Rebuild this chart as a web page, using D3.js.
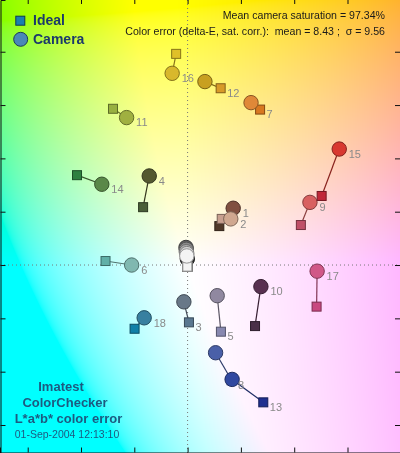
<!DOCTYPE html>
<html>
<head>
<meta charset="utf-8">
<script src="https://cdn.jsdelivr.net/npm/d3@7/dist/d3.min.js"></script>
<style>
  html, body { margin: 0; padding: 0; background: #fff; }
  #wrap { position: relative; width: 400px; height: 453px; overflow: hidden; }
  canvas, svg { position: absolute; left: 0; top: 0; }
  text { font-family: "Liberation Sans", Arial, sans-serif; }
</style>
</head>
<body>
<div id="wrap"><canvas id="bg" width="400" height="453"></canvas><svg id="chart" width="400" height="453"></svg></div>
<script>
// ---- data (a*, b*) ----
const patchIds   = [1, 2, 3, 4, 5, 6, 7, 8, 9, 10, 11, 12, 13, 14, 15, 16, 17, 18, 24, 23, 22, 21, 20, 19];
const idealA     = [11.9, 12.8, 0.5, -16.7, 12.5, -30.8, 27.2, 16.5, 42.5, 25.3, -28.0, 12.4, 28.4, -41.5, 50.3, -4.3, 48.4, -19.9, -0.1, -0.1, -0.1, -0.1, -0.1, -0.1];
const idealB     = [14.6, 17.3, -21.5, 21.7, -25.0, 1.5, 58.3, -43.2, 15.0, -22.9, 58.6, 66.3, -51.5, 33.7, 25.9, 79.2, -15.6, -23.9, -0.6, -0.6, -0.6, -0.6, -0.6, -0.6];
const cameraA    = [17.1, 16.2, -1.4, -14.4, 11.1, -21.0, 23.8, 10.5, 45.9, 27.5, -22.9, 6.5, 16.7, -32.2, 56.9, -5.8, 48.6, -16.3, -0.1, -0.6, -0.5, -0.5, -0.3, -0.3];
const cameraB    = [21.3, 17.3, -13.8, 33.4, -11.5, 0.0, 60.9, -32.9, 23.5, -8.1, 55.3, 68.8, -42.9, 30.3, 43.5, 71.9, -2.3, -19.8, 2.3, 6.6, 5.9, 5.0, 4.3, 3.4];
const idealColor = ["#503828", "#c8a090", "#5a7890", "#4a5e38", "#8888b0", "#60b0a8", "#d87820", "#4050a0", "#c05068", "#4a3048", "#98b040", "#d89a28", "#203090", "#2e8040", "#c02838", "#e0c028", "#c84880", "#1080a8", "#303030", "#585858", "#808080", "#a8a8a8", "#d0d0d0", "#f4f4f4"];
const cameraColor= ["#805040", "#d0a890", "#687888", "#545830", "#9088a0", "#80b8b0", "#e08838", "#4a60a8", "#d86060", "#583050", "#a0b040", "#c8a020", "#3048a0", "#5a8848", "#d83830", "#d8b82c", "#d05888", "#3880a0", "#303030", "#606060", "#8a8a8a", "#b0b0b0", "#d4d4d4", "#f4f4f4"];
const labelOn    = ["c", "c", "s", "c", "s", "c", "s", "s", "c", "c", "c", "s", "s", "c", "c", "c", "c", "c", "", "", "", "", "", ""];
const tickValues = [-60, -40, -20, 0, 20, 40, 60, 80];
const infoLines  = ["Mean camera saturation = 97.34%", "Color error (delta-E, sat. corr.):  mean = 8.43 ;  \u03c3 = 9.56"];
const titleLines = ["Imatest", "ColorChecker", "L*a*b* color error", "01-Sep-2004 12:13:10"];
const legendItems = ["Ideal", "Camera"];

const W = 400, H = 453;
const x = d3.scaleLinear().domain([-70.4, 79.7]).range([0, W]);
const y = d3.scaleLinear().domain([-70.5, 99.4]).range([H, 0]);

// ---- background: a*b* plane at L*=100 ----
const ctx = document.getElementById("bg").getContext("2d");
const img = ctx.createImageData(W, H);
for (let py = 0; py < H; py++) {
  const b = y.invert(py + 0.5);
  for (let px = 0; px < W; px++) {
    const a = x.invert(px + 0.5);
    const c = d3.lab(100, a, b).rgb();
    const i = (py * W + px) * 4;
    img.data[i]   = Math.max(0, Math.min(255, Math.round(c.r)));
    img.data[i+1] = Math.max(0, Math.min(255, Math.round(c.g)));
    img.data[i+2] = Math.max(0, Math.min(255, Math.round(c.b)));
    img.data[i+3] = 255;
  }
}
ctx.putImageData(img, 0, 0);

const svg = d3.select("#chart");

// zero lines
svg.append("line").attr("x1", x(0)).attr("x2", x(0)).attr("y1", 0).attr("y2", H)
  .attr("stroke", "#777").attr("stroke-dasharray", "1,3");
svg.append("line").attr("x1", 0).attr("x2", W).attr("y1", y(0)).attr("y2", y(0))
  .attr("stroke", "#777").attr("stroke-dasharray", "1,3");

// axes (ticks pointing inward)
svg.append("g").attr("transform", `translate(0,${H - 0.5})`)
  .call(d3.axisBottom(x).tickValues(tickValues).tickSize(-5).tickFormat(""))
  .call(g => g.select(".domain").attr("stroke", "#111"));
svg.append("g").attr("transform", "translate(0,0)")
  .call(d3.axisTop(x).tickValues(tickValues).tickSize(-4).tickFormat(""))
  .call(g => g.select(".domain").remove());
svg.append("g").attr("transform", "translate(0.5,0)")
  .call(d3.axisLeft(y).tickValues(tickValues).tickSize(-5).tickFormat(""))
  .call(g => g.select(".domain").attr("stroke", "#111"));
svg.append("g").attr("transform", `translate(${W},0)`)
  .call(d3.axisRight(y).tickValues(tickValues).tickSize(-5).tickFormat(""))
  .call(g => g.select(".domain").remove());
svg.selectAll(".tick line").attr("stroke", "#111");

// patches
const data = patchIds.map((id, i) => ({
  id, ia: idealA[i], ib: idealB[i], ca: cameraA[i], cb: cameraB[i],
  ic: idealColor[i], cc: cameraColor[i], lab: labelOn[i]
}));
const SQ = 9, R = 7.2;
const gP = svg.append("g");
data.forEach(d => {
  const g = gP.append("g");
  g.append("line")
    .attr("x1", x(d.ia)).attr("y1", y(d.ib)).attr("x2", x(d.ca)).attr("y2", y(d.cb))
    .attr("stroke", d3.color(d.cc).darker(1.3)).attr("stroke-width", 1.2);
  g.append("rect")
    .attr("x", x(d.ia) - SQ / 2).attr("y", y(d.ib) - SQ / 2).attr("width", SQ).attr("height", SQ)
    .attr("fill", d.ic).attr("stroke", d3.color(d.ic).darker(1.4)).attr("stroke-width", 1);
  g.append("circle")
    .attr("cx", x(d.ca)).attr("cy", y(d.cb)).attr("r", R)
    .attr("fill", d.cc).attr("stroke", d3.color(d.cc).darker(1.4)).attr("stroke-width", 1);
});
// labels
svg.append("g").selectAll("text").data(data.filter(d => d.lab))
  .join("text")
  .attr("x", d => d.lab === "c" ? x(d.ca) + 9.5 : x(d.ia) + 6.5)
  .attr("y", d => (d.lab === "c" ? y(d.cb) : y(d.ib)) + 8.7)
  .attr("font-size", 11).attr("fill", "#8a8a8a")
  .text(d => d.id);

// legend
const lg = svg.append("g");
lg.append("rect").attr("x", 20.3 - SQ / 2).attr("y", 20.7 - SQ / 2).attr("width", SQ).attr("height", SQ)
  .attr("fill", "#1a80b0").attr("stroke", "#0c3a55");
lg.append("circle").attr("cx", 20.7).attr("cy", 39.3).attr("r", 7)
  .attr("fill", "#4a88b8").attr("stroke", "#1c3c58");
lg.selectAll("text").data(legendItems).join("text")
  .attr("x", 33).attr("y", (d, i) => 25 + i * 19.3)
  .attr("font-size", 14).attr("font-weight", "bold").attr("fill", "#1b3a6b")
  .text(d => d);

// info text
svg.append("g").selectAll("text").data(infoLines).join("text")
  .attr("x", 385).attr("y", (d, i) => 19 + i * 16)
  .attr("text-anchor", "end").attr("font-size", 10.6).attr("fill", "#1a1a1a")
  .style("white-space", "pre")
  .text(d => d);

// title block
const tx = [61, 65, 68.5, 67], ty = [391, 407, 422.7, 438];
svg.append("g").selectAll("text").data(titleLines).join("text")
  .attr("x", (d, i) => tx[i]).attr("y", (d, i) => ty[i])
  .attr("text-anchor", "middle")
  .attr("font-size", (d, i) => i < 3 ? 13 : 10.5)
  .attr("font-weight", (d, i) => i < 3 ? "bold" : "normal")
  .attr("fill", "#1d5a80")
  .text(d => d);
</script>
</body>
</html>
